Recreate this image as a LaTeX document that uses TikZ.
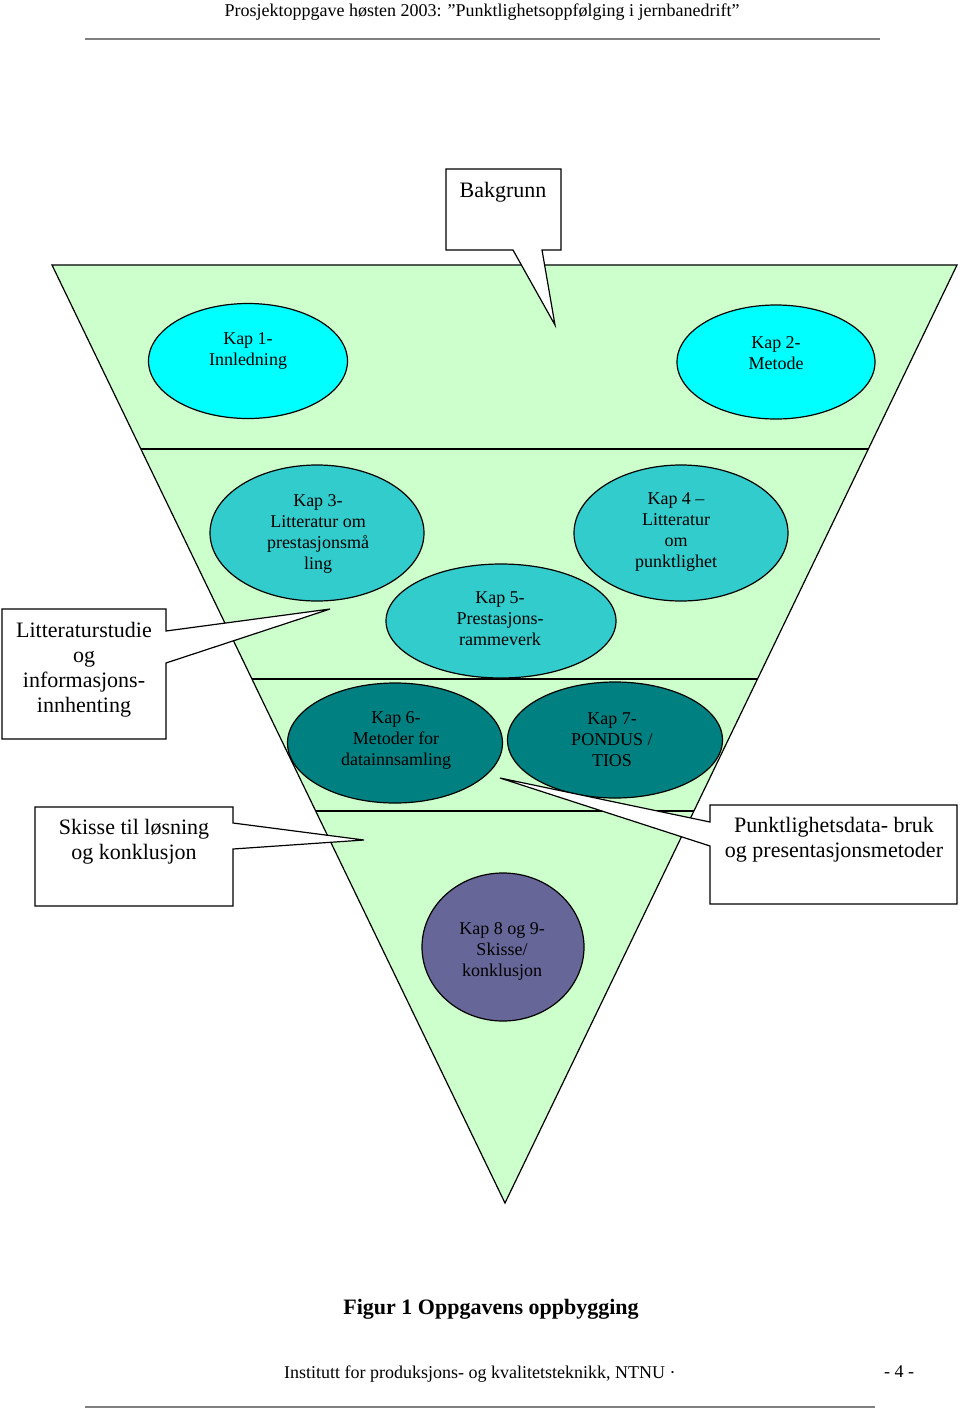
\documentclass[tikz,border=0pt]{standalone}
\usepackage{fontspec}
\setmainfont{Liberation Serif}
\usetikzlibrary{shapes.geometric}
\definecolor{trianglegreen}{HTML}{CCFFCC}
\definecolor{kapcyan}{HTML}{00FFFF}
\definecolor{kapturq}{HTML}{33CCCC}
\definecolor{kapteal}{HTML}{008080}
\definecolor{kapviolet}{HTML}{666699}
\begin{document}
\begin{tikzpicture}[x=1pt,y=-1pt,
    kap/.style={ellipse,draw,line width=1.2pt,inner sep=0pt},
    kaptext/.style={align=center,inner sep=0pt,font=\fontsize{18}{21}\selectfont},
    calltext/.style={align=center,inner sep=0pt,font=\fontsize{22}{25}\selectfont},
    callout/.style={draw,fill=white,line width=1.2pt,line join=miter},
    pagetext/.style={inner sep=0pt,font=\fontsize{18}{21}\selectfont}]
    \useasboundingbox (0,0) rectangle (960,1409);
    % page head and foot
    \node[pagetext] (head) at (482,12) {Prosjektoppgave høsten 2003: ”Punktlighetsoppfølging i jernbanedrift”};
    \draw[gray,line width=2pt] (85,39) -- (880,39);
    \node[inner sep=0pt,font=\bfseries\fontsize{22}{26}\selectfont] (caption) at (491,1309) {Figur 1 Oppgavens oppbygging};
    \node[pagetext,anchor=west] (inst) at (284,1374) {Institutt for produksjons- og kvalitetsteknikk, NTNU ·};
    \node[pagetext] (pageno) at (899,1372) {- 4 -};
    \draw[gray,line width=2pt] (85,1407) -- (875,1407);
    % the triangle
    \coordinate (tl) at (52,265);
    \coordinate (tr) at (957,265);
    \coordinate (apex) at (505,1203);
    \draw[fill=trianglegreen,line width=1.2pt] (tl) -- (tr) -- (apex) -- cycle;
    \begin{scope}
        \clip (tl) -- (tr) -- (apex) -- cycle;
        \draw[line width=1.2pt] (0,449) -- (960,449);
        \draw[line width=1.2pt] (0,679) -- (960,679);
        \draw[line width=1.2pt] (0,811) -- (960,811);
    \end{scope}
    % chapters
    \node[kap,fill=kapcyan,minimum width=199pt,minimum height=115pt] (k1) at (248,361) {};
    \node[kaptext] (k1t) at (248,351) {Kap 1-\\Innledning};
    \node[kap,fill=kapcyan,minimum width=198pt,minimum height=114pt] (k2) at (776,362) {};
    \node[kaptext] (k2t) at (776,353) {Kap 2-\\Metode};
    \node[kap,fill=kapturq,minimum width=214pt,minimum height=136pt] (k3) at (317,533) {};
    \node[kaptext] (k3t) at (318,534) {Kap 3-\\Litteratur om\\prestasjonsmå\\ling};
    \node[kap,fill=kapturq,minimum width=214pt,minimum height=136pt] (k4) at (681,533) {};
    \node[kaptext] (k4t) at (676,532) {Kap 4 –\\Litteratur\\om\\punktlighet};
    \node[kap,fill=kapturq,minimum width=230pt,minimum height=114pt] (k5) at (501,621) {};
    \node[kaptext] (k5t) at (500,619) {Kap 5-\\Prestasjons-\\rammeverk};
    \node[kap,fill=kapteal,minimum width=215pt,minimum height=120pt] (k6) at (395,743) {};
    \node[kaptext] (k6t) at (396,740) {Kap 6-\\Metoder for\\datainnsamling};
    \node[kap,fill=kapteal,minimum width=215pt,minimum height=116pt] (k7) at (615,740) {};
    \node[kaptext] (k7t) at (612,740) {Kap 7-\\PONDUS /\\TIOS};
    \node[kap,fill=kapviolet,minimum width=162pt,minimum height=148pt] (k8) at (503,947) {};
    \node[kaptext] (k8t) at (502,951) {Kap 8 og 9-\\Skisse/\\konklusjon};
    % callouts
    \draw[callout] (446,169) -- (561,169) -- (561,250) -- (542,250) -- (555,325) -- (513,250) -- (446,250) -- cycle;
    \node[calltext] (bak) at (503,192) {Bakgrunn};
    \draw[callout] (2,609) -- (166,609) -- (166,631) -- (330,609) -- (166,663) -- (166,739) -- (2,739) -- cycle;
    \node[calltext] (lit) at (84,670) {Litteraturstudie\\og\\informasjons-\\innhenting};
    \draw[callout] (35,807) -- (233,807) -- (233,823) -- (364,840) -- (233,849) -- (233,906) -- (35,906) -- cycle;
    \node[calltext] (skisse) at (134,842) {Skisse til løsning\\og konklusjon};
    \draw[callout] (710,805) -- (957,805) -- (957,904) -- (710,904) -- (710,846) -- (500,778) -- (710,822) -- cycle;
    \node[calltext] (punkt) at (834,840) {Punktlighetsdata- bruk\\og presentasjonsmetoder};
\end{tikzpicture}
\end{document}
